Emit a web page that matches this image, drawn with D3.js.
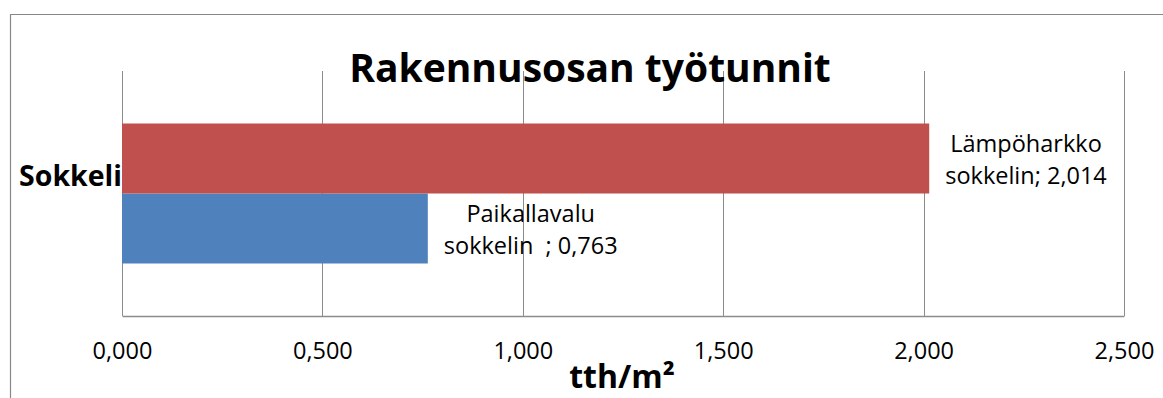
<!DOCTYPE html>
<html>
<head>
<meta charset="utf-8">
<script src="https://cdn.jsdelivr.net/npm/d3@7"></script>
<style>
  html, body { margin: 0; padding: 0; background: #fff; }
  svg { display: block; font-family: "Open Sans", "Noto Sans", sans-serif; }
  .lbl tspan { white-space: pre; }
</style>
</head>
<body>
<svg id="chart" width="1163" height="398"></svg>
<script>
// Chart data
const categories = ["Sokkeli"];
const seriesNames = ["Paikallavalu sokkelin ", "Lämpöharkko sokkelin"];
const seriesValues = [0.763, 2.014];
const labelLines = [["Paikallavalu", "sokkelin  ; 0,763"], ["Lämpöharkko", "sokkelin; 2,014"]];
const tickValues = [0, 0.5, 1, 1.5, 2, 2.5];
const seriesColors = ["#4F81BD", "#C0504D"];
const chartTitle = "Rakennusosan työtunnit";
const axisTitle = "tth/m²";

const fi = d3.formatLocale({ decimal: ",", thousands: " ", grouping: [3], currency: ["", " €"] });
const fmt = fi.format(".3f");

const svg = d3.select("#chart");
const W = 1163, H = 398;
const plot = { left: 122, right: 1124, top: 71, bottom: 316 };

// Outer chart frame (top and left edges visible)
svg.append("path")
  .attr("d", `M10.5,${H} V14.5 H${W}`)
  .attr("fill", "none").attr("stroke", "#888").attr("stroke-width", 1.2);

const x = d3.scaleLinear().domain([0, 2.5]).range([plot.left, plot.right]);
const y = d3.scaleBand().domain(categories).range([plot.top, plot.bottom]).padding(0);
// Second series sits on top, as in a clustered bar chart
const ySeries = d3.scaleBand()
  .domain(d3.range(seriesNames.length).reverse())
  .range([0, y.bandwidth()])
  .paddingInner(0).paddingOuter(0.75);

// Vertical gridlines
svg.append("g").selectAll("line").data(tickValues).join("line")
  .attr("x1", d => Math.round(x(d)) + 0.5).attr("x2", d => Math.round(x(d)) + 0.5)
  .attr("y1", plot.top).attr("y2", plot.bottom)
  .attr("stroke", "#8c8c8c").attr("stroke-width", 1);

// Bars
const group = svg.append("g").selectAll("g").data(categories).join("g")
  .attr("transform", d => `translate(0,${y(d)})`);
group.selectAll("rect").data(seriesValues.map((v, i) => ({ v, i }))).join("rect")
  .attr("x", x(0))
  .attr("y", d => ySeries(d.i))
  .attr("width", d => x(d.v) - x(0))
  .attr("height", ySeries.bandwidth())
  .attr("fill", d => seriesColors[d.i]);

// Data labels beyond bar ends
group.selectAll("text.lbl").data(seriesValues.map((v, i) => ({ v, i }))).join("text")
  .attr("class", "lbl")
  .attr("font-size", 23.5).attr("fill", "#000")
  .each(function (d) {
    const t = d3.select(this);
    const cy = ySeries(d.i) + ySeries.bandwidth() / 2;
    const lines = labelLines[d.i];
    lines.forEach((ln, k) => {
      t.append("tspan").attr("y", cy - 6.5 + k * 31.5).text(ln);
    });
    // centre lines against each other, block starts after the bar end
    const widths = [];
    t.selectAll("tspan").each(function () { widths.push(this.getComputedTextLength()); });
    const maxW = d3.max(widths);
    const cx = x(d.v) + 16 + maxW / 2;
    t.attr("text-anchor", "middle").selectAll("tspan").attr("x", cx);
  });

// Bottom axis line and tick labels
const axis = svg.append("g")
  .attr("transform", `translate(0,${plot.bottom})`)
  .call(d3.axisBottom(x).tickValues(tickValues).tickFormat(fmt).tickSize(0).tickPadding(26));
axis.select(".domain").attr("stroke", "#8c8c8c").attr("stroke-width", 1.5);
axis.selectAll("text").attr("font-family", "Open Sans, sans-serif").attr("font-size", 23.5).attr("fill", "#000");

// Category label
svg.append("g").selectAll("text").data(categories).join("text")
  .attr("x", plot.left).attr("y", d => y(d) + y.bandwidth() / 2 - 8)
  .attr("text-anchor", "end")
  .attr("font-size", 28.5).attr("font-weight", "bold").attr("fill", "#000")
  .text(d => d);

// Chart title
svg.append("text")
  .attr("x", 590).attr("y", 82)
  .attr("text-anchor", "middle")
  .attr("font-size", 39).attr("font-weight", "bold").attr("fill", "#000")
  .text(chartTitle);

// Value axis title
svg.append("text")
  .attr("x", (plot.left + plot.right) / 2 - 1).attr("y", 388)
  .attr("text-anchor", "middle")
  .attr("font-size", 32).attr("font-weight", "bold").attr("fill", "#000")
  .text(axisTitle);
</script>
</body>
</html>
